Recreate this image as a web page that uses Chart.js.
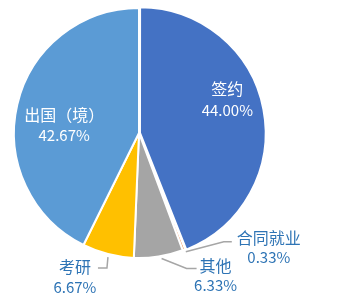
<!DOCTYPE html>
<html>
<head>
<meta charset="utf-8">
<script src="https://cdn.jsdelivr.net/npm/chart.js@4/dist/chart.umd.min.js"></script>
<style>
  html, body { margin: 0; padding: 0; background: #fff; }
  #wrap { width: 338px; height: 305px; position: relative; }
</style>
</head>
<body>
<div id="wrap"><canvas id="pieChart"></canvas></div>
<script>
(function () {
    'use strict';

    // ── Data ────────────────────────────────────────────────────────────────
    const LABELS = ['签约', '合同就业', '其他', '考研', '出国（境）'];
    const VALUES = [44.00, 0.33, 6.33, 6.67, 42.67];
    const COLORS = ['#4472C4', '#ED7D31', '#A5A5A5', '#FFC000', '#5B9BD5'];

    const FONT = '"Noto Sans CJK SC", "Noto Sans", sans-serif';
    const OUT_TEXT = '#2E74B5';
    const LEADER = '#A6A6A6';

    // label placement: inside labels offset from arc centre point,
    // outside labels offset from the arc's outer edge at mid-angle
    const PLACE = [
        { inside: true, dx: 25, dy: -22 },
        { inside: false, line: [[2, 2], [40, -8], [48, -8]], tx: 85, ty: -12 },
        { inside: false, line: [[3, 2], [28, 12], [38, 12]], tx: 57, ty: 9 },
        { inside: false, line: [[0, 3], [-1, 14], [-10, 14]], tx: -33, ty: 13 },
        { inside: true, dx: -14, dy: 6 },
    ];

    const labelPlugin = {
        id: 'sliceLabels',
        afterDatasetsDraw(chart) {
            const ctx = chart.ctx;
            const meta = chart.getDatasetMeta(0);
            ctx.save();
            ctx.textAlign = 'center';
            ctx.textBaseline = 'middle';
            meta.data.forEach((arc, i) => {
                const p = PLACE[i];
                const pct = VALUES[i].toFixed(2) + '%';
                if (p.inside) {
                    const c = arc.tooltipPosition();
                    const x = c.x + p.dx, y = c.y + p.dy;
                    ctx.fillStyle = '#fff';
                    ctx.font = '16px ' + FONT;
                    ctx.fillText(LABELS[i], x, y - 10);
                    ctx.font = '15px ' + FONT;
                    ctx.fillText(pct, x, y + 11);
                } else {
                    const { x, y, startAngle, endAngle, outerRadius } =
                        arc.getProps(['x', 'y', 'startAngle', 'endAngle', 'outerRadius'], true);
                    const mid = (startAngle + endAngle) / 2;
                    const ex = x + Math.cos(mid) * outerRadius;
                    const ey = y + Math.sin(mid) * outerRadius;
                    ctx.strokeStyle = LEADER;
                    ctx.lineWidth = 1.5;
                    ctx.beginPath();
                    p.line.forEach((pt, k) => {
                        if (k === 0) ctx.moveTo(ex + pt[0], ey + pt[1]);
                        else ctx.lineTo(ex + pt[0], ey + pt[1]);
                    });
                    ctx.stroke();
                    ctx.fillStyle = OUT_TEXT;
                    ctx.font = '16px ' + FONT;
                    ctx.fillText(LABELS[i], ex + p.tx, ey + p.ty);
                    ctx.font = '15px ' + FONT;
                    ctx.fillText(pct, ex + p.tx, ey + p.ty + 20);
                }
            });
            ctx.restore();
        }
    };

    new Chart(document.getElementById('pieChart'), {
        type: 'pie',
        data: {
            labels: LABELS,
            datasets: [{
                data: VALUES,
                backgroundColor: COLORS,
                borderColor: '#fff',
                borderWidth: 2,
                offset: [4, 0, 0, 0, 0],
            }]
        },
        options: {
            responsive: true,
            maintainAspectRatio: false,
            animation: false,
            layout: { padding: { left: 11, right: 71, top: 5, bottom: 44 } },
            plugins: {
                legend: { display: false },
                tooltip: { enabled: false },
            }
        },
        plugins: [labelPlugin]
    });
})();
</script>
</body>
</html>
